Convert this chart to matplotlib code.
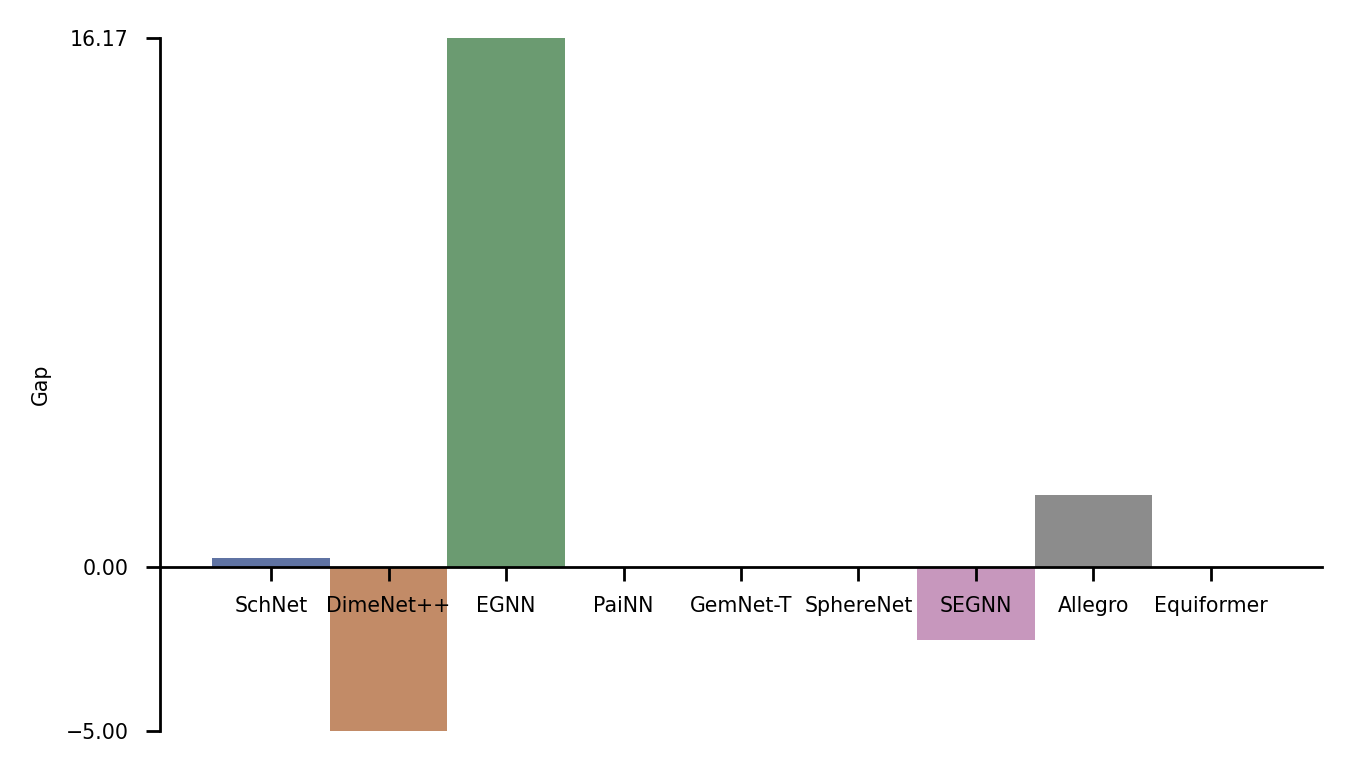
import matplotlib
matplotlib.use("Agg")
import matplotlib.pyplot as plt

models = ['SchNet', 'DimeNet++', 'EGNN', 'PaiNN', 'GemNet-T', 'SphereNet',
          'SEGNN', 'Allegro', 'Equiformer']
gap = [0.27, -5.00, 16.17, 0.0, 0.0, 0.0, -2.22, 2.21, 0.0]
yticks = [-5.00, 0.00, 16.17]

# muted versions of the seaborn "deep" colours
colors = ['#5f73a3', '#c28b67', '#6b9b71', '#b0585b', '#8a7fae',
          '#8f7a68', '#c797bd', '#8c8c8c', '#c1b37e']

fig = plt.figure(figsize=(6.76, 3.865), dpi=200)
ax = fig.add_axes([160 / 1352, 42 / 773, 1162 / 1352, 693 / 773])

# move the x axis to zero first, it resets the tick setup
ax.spines['top'].set_visible(False)
ax.spines['right'].set_visible(False)
ax.spines['bottom'].set_position(('data', 0))

x = list(range(len(models)))
ax.bar(x, gap, width=1.0, color=colors, zorder=1)

ax.set_xlim(-0.945, 8.945)
ax.set_ylim(yticks[0], yticks[-1])
ax.set_xticks(x)
ax.set_xticklabels(models)
ax.set_yticks(yticks)
ax.set_yticklabels([f'{v:.2f}'.replace('-', '\u2212') for v in yticks])
ax.set_ylabel('Gap', fontsize=7.4, labelpad=5.5)

for side in ['left', 'bottom']:
    ax.spines[side].set_linewidth(1.0)
ax.tick_params(axis='both', length=5.2, width=1.0, labelsize=7.4)
ax.tick_params(axis='x', pad=5.2)
ax.tick_params(axis='y', pad=6.0)

fig.savefig('out.png', dpi=200)
